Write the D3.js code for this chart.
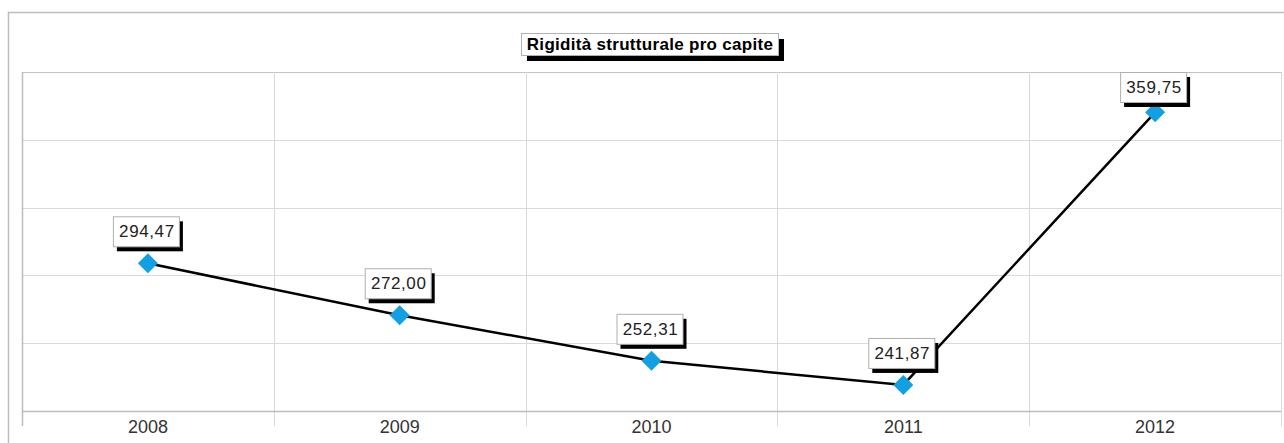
<!DOCTYPE html>
<html>
<head>
<meta charset="utf-8">
<script src="https://cdn.jsdelivr.net/npm/d3@7"></script>
<style>
  body { margin: 0; background: #fff; }
  svg { display: block; font-family: "Liberation Sans", Arial, sans-serif; }
</style>
</head>
<body>
<svg id="chart" width="1284" height="443"></svg>
<script>
// Chart data
const years = ['2008', '2009', '2010', '2011', '2012'];
const values = [294.47, 272.00, 252.31, 241.87, 359.75];
const valueLabels = ['294,47', '272,00', '252,31', '241,87', '359,75'];
const yDomain = [230.6, 377.2];
const gridCount = 5;
const title = 'Rigidità strutturale pro capite';

const svg = d3.select('#chart');
const plot = {left: 22, right: 1281, top: 72, bottom: 411};

// Outer frame
svg.append('rect')
    .attr('x', 8.5).attr('y', 12.5)
    .attr('width', 1300).attr('height', 500)
    .attr('fill', '#fff')
    .attr('stroke', '#bdbdbd')
    .attr('stroke-width', 1.5);

const xScale = d3.scaleBand()
    .domain(years)
    .range([plot.left, plot.right])
    .padding(0);

const yScale = d3.scaleLinear()
    .domain(yDomain)
    .range([plot.bottom, plot.top]);

// Horizontal gridlines
const step = (yDomain[1] - yDomain[0]) / gridCount;
const gridVals = d3.range(gridCount + 1).map(i => yDomain[0] + i * step);
svg.append('g')
    .selectAll('line')
    .data(gridVals.slice(1))
    .join('line')
    .attr('x1', plot.left).attr('x2', plot.right)
    .attr('y1', d => Math.round(yScale(d)) + 0.5)
    .attr('y2', d => Math.round(yScale(d)) + 0.5)
    .attr('stroke', d => d === gridVals[gridCount] ? '#c4c4c4' : '#d9d9d9')
    .attr('stroke-width', 1);

// Vertical gridlines + ticks below the axis at category boundaries
const bounds = years.map(d => xScale(d)).concat([plot.right]);
svg.append('g')
    .selectAll('line')
    .data(bounds)
    .join('line')
    .attr('x1', d => Math.round(d) + 0.5).attr('x2', d => Math.round(d) + 0.5)
    .attr('y1', plot.top).attr('y2', plot.bottom + 15)
    .attr('stroke', (d, i) => i === 0 ? '#bdbdbd' : '#d9d9d9')
    .attr('stroke-width', (d, i) => i === 0 ? 1.5 : 1);

// x axis line
svg.append('line')
    .attr('x1', plot.left).attr('x2', plot.right)
    .attr('y1', plot.bottom + 0.5).attr('y2', plot.bottom + 0.5)
    .attr('stroke', '#bdbdbd')
    .attr('stroke-width', 1.5);

// Year labels
svg.append('g')
    .selectAll('text')
    .data(years)
    .join('text')
    .attr('x', d => xScale(d) + xScale.bandwidth() / 2)
    .attr('y', 433)
    .attr('text-anchor', 'middle')
    .attr('font-size', 18)
    .attr('fill', '#333')
    .text(d => d);

// Line
const cx = (d, i) => xScale(years[i]) + xScale.bandwidth() / 2;
const line = d3.line()
    .x((d, i) => cx(d, i))
    .y(d => yScale(d));

svg.append('path')
    .datum(values)
    .attr('d', line)
    .attr('fill', 'none')
    .attr('stroke', '#000')
    .attr('stroke-width', 2.5);

// Diamond markers
svg.append('g')
    .selectAll('path')
    .data(values)
    .join('path')
    .attr('transform', (d, i) => `translate(${cx(d, i)},${yScale(d)})`)
    .attr('d', 'M0,-10L10,0L0,10L-10,0Z')
    .attr('fill', '#139fe3');

// Value labels with drop shadow
const boxW = 66, boxH = 30;
const labels = svg.append('g')
    .selectAll('g')
    .data(values)
    .join('g')
    .attr('transform', (d, i) => {
      const x = cx(d, i) - 2 - boxW / 2;
      const y = Math.max(plot.top, yScale(d) - 17 - boxH);
      return `translate(${x},${y})`;
    });

labels.append('rect')
    .attr('x', 4).attr('y', 5)
    .attr('width', boxW).attr('height', boxH)
    .attr('fill', '#000');

labels.append('rect')
    .attr('x', 0.5).attr('y', 0.5)
    .attr('width', boxW).attr('height', boxH)
    .attr('fill', '#fff')
    .attr('stroke', '#b0b0b0');

labels.append('text')
    .attr('x', boxW / 2 + 1)
    .attr('y', boxH / 2 + 6)
    .attr('text-anchor', 'middle')
    .attr('font-size', 17)
    .attr('letter-spacing', 0.6)
    .attr('fill', '#222')
    .text((d, i) => valueLabels[i]);

// Title box
const tg = svg.append('g').attr('transform', 'translate(521,33)');
tg.append('rect')
    .attr('x', 6).attr('y', 6)
    .attr('width', 257).attr('height', 22)
    .attr('fill', '#000');
tg.append('rect')
    .attr('x', 0.5).attr('y', 0.5)
    .attr('width', 257).attr('height', 22)
    .attr('fill', '#fff')
    .attr('stroke', '#b0b0b0');
tg.append('text')
    .attr('x', 129)
    .attr('y', 17)
    .attr('text-anchor', 'middle')
    .attr('font-size', 17)
    .attr('font-weight', 'bold')
    .attr('letter-spacing', 0.3)
    .attr('fill', '#000')
    .text(title);
</script>
</body>
</html>
